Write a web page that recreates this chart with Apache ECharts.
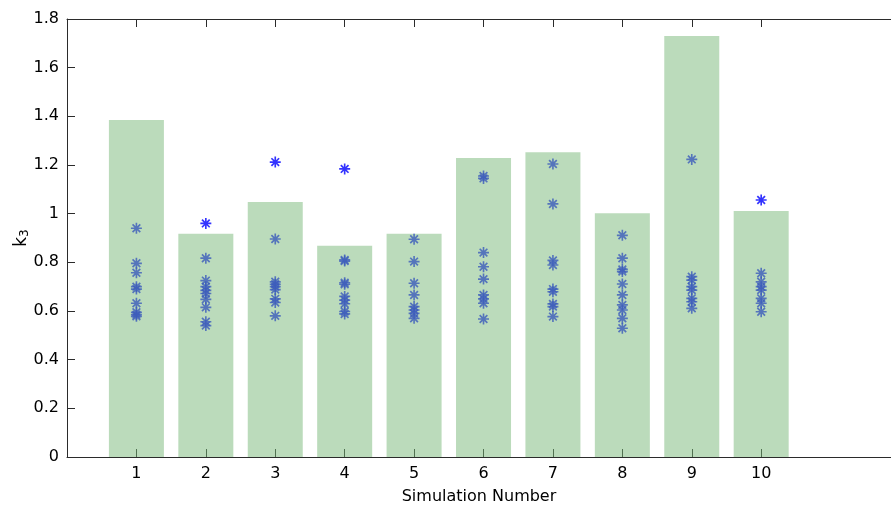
<!DOCTYPE html>
<html>
<head>
<meta charset="utf-8">
<script src="https://cdn.jsdelivr.net/npm/echarts@6/dist/echarts.min.js"></script>
<style>
  html, body { margin: 0; padding: 0; background: #fff; }
  #main { width: 891px; height: 508px; }
</style>
</head>
<body>
<div id="main"></div>
<script>
// simulation numbers and bar heights (k3)
var simIds = [1, 2, 3, 4, 5, 6, 7, 8, 9, 10];
var barHeights = [1.385, 0.917, 1.048, 0.868, 0.917, 1.229, 1.252, 1.002, 1.730, 1.011];
var xTicks = [1, 2, 3, 4, 5, 6, 7, 8, 9, 10];

// individual runs of each simulation
var runs1 = [0.940, 0.796, 0.757, 0.700, 0.690, 0.632, 0.595, 0.585, 0.578];
var runs2 = [0.960, 0.817, 0.725, 0.700, 0.685, 0.672, 0.648, 0.615, 0.556, 0.540];
var runs3 = [1.212, 0.896, 0.720, 0.710, 0.700, 0.688, 0.650, 0.635, 0.580];
var runs4 = [1.184, 0.810, 0.805, 0.716, 0.710, 0.660, 0.645, 0.630, 0.598, 0.588];
var runs5 = [0.895, 0.803, 0.714, 0.666, 0.618, 0.604, 0.590, 0.570];
var runs6 = [1.155, 1.145, 0.840, 0.782, 0.731, 0.666, 0.650, 0.632, 0.567];
var runs7 = [1.204, 1.040, 0.808, 0.789, 0.690, 0.679, 0.629, 0.618, 0.577];
var runs8 = [0.911, 0.817, 0.771, 0.762, 0.711, 0.666, 0.625, 0.604, 0.570, 0.529];
var runs9 = [1.223, 0.741, 0.727, 0.700, 0.686, 0.652, 0.638, 0.611];
var runs10 = [1.056, 0.755, 0.720, 0.700, 0.686, 0.652, 0.632, 0.597];
var allRuns = [runs1, runs2, runs3, runs4, runs5, runs6, runs7, runs8, runs9, runs10];

// asterisk marker (vertical, horizontal and two diagonal strokes)
var starPath = 'path://M8.5 0L11.5 0L11.5 20L8.5 20Z' +
	'M0 8.5L20 8.5L20 11.5L0 11.5Z' +
	'M4.1 1.9L18.1 15.9L15.9 18.1L1.9 4.1Z' +
	'M1.9 15.9L15.9 1.9L18.1 4.1L4.1 18.1Z';

var starData = [];
for (var i = 0; i < allRuns.length; i++) {
	for (var j = 0; j < allRuns[i].length; j++) {
		starData.push([simIds[i], allRuns[i][j]]);
	}
}
var barData = [];
for (var i = 0; i < simIds.length; i++) {
	barData.push([simIds[i], barHeights[i]]);
}

var myChart = echarts.init(document.getElementById('main'));
var font = 'DejaVu Sans, Liberation Sans, sans-serif';
var axisColor = '#2b2b2b';
var xMax = 11.87;

var option = {
	animation: false,
	backgroundColor: '#fff',
	grid: {
		left: 67,
		right: 0,
		top: 19,
		bottom: 51,
		containLabel: false,
		outerBoundsMode: 'none'
	},
	xAxis: [{
		type: 'value',
		min: 0,
		max: xMax,
		position: 'bottom',
		name: 'Simulation Number',
		nameLocation: 'middle',
		nameGap: 32,
		nameMoveOverlap: false,
		nameTextStyle: { color: '#000', fontSize: 16, fontFamily: font },
		axisLine: { lineStyle: { color: axisColor, width: 1 } },
		axisTick: { inside: true, length: 8, customValues: xTicks, lineStyle: { color: axisColor } },
		axisLabel: { customValues: xTicks, margin: 9, color: '#000', fontSize: 16, fontFamily: font },
		splitLine: { show: false }
	}, {
		type: 'value',
		min: 0,
		max: xMax,
		position: 'top',
		axisLine: { lineStyle: { color: axisColor, width: 1 } },
		axisTick: { inside: true, length: 8, customValues: xTicks, lineStyle: { color: axisColor } },
		axisLabel: { show: false },
		splitLine: { show: false }
	}],
	yAxis: {
		type: 'value',
		min: 0,
		max: 1.8,
		interval: 0.2,
		name: 'k{sub|3}',
		nameLocation: 'middle',
		nameGap: 36,
		nameMoveOverlap: false,
		nameRotate: 90,
		nameTextStyle: {
			color: '#000', fontSize: 17, fontFamily: font,
			rich: { sub: { fontSize: 12, verticalAlign: 'bottom', padding: [7, 0, 0, 0], fontFamily: font, color: '#000' } }
		},
		axisLine: { show: true, lineStyle: { color: axisColor, width: 1 } },
		axisTick: { show: true, inside: true, length: 8, lineStyle: { color: axisColor } },
		axisLabel: { margin: 8, color: '#000', fontSize: 16, fontFamily: font },
		splitLine: { show: false }
	},
	series: [{
		name: 'runs',
		type: 'scatter',
		xAxisIndex: 0,
		z: 2,
		symbol: starPath,
		symbolSize: 11,
		itemStyle: { color: '#0000ff' },
		data: starData
	}, {
		name: 'k3',
		type: 'bar',
		xAxisIndex: 0,
		z: 3,
		barWidth: 55,
		itemStyle: { color: 'rgb(119,183,119)', opacity: 0.5 },
		data: barData
	}]
};

myChart.setOption(option);
</script>
</body>
</html>
